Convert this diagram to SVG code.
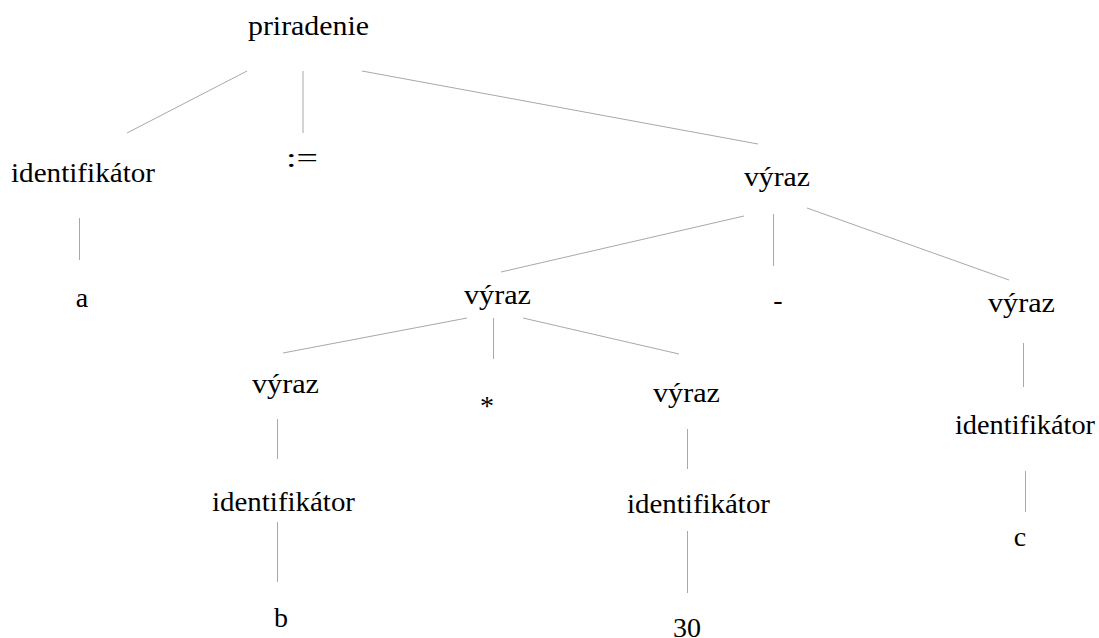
<svg xmlns="http://www.w3.org/2000/svg" width="1099" height="638" viewBox="0 0 1099 638">
  <style>
    .lbl { font-family: "Liberation Serif", "Noto Serif", "Noto Serif CJK SC", "Noto Serif CJK JP", FreeSerif, "Nimbus Roman", "Nimbus Roman No9 L", Times, "DejaVu Serif", "Droid Serif", "Source Serif Pro", Georgia, serif; font-size: 28px; fill: #000; }
    .edge { stroke: #a8a8a8; stroke-width: 1; fill: none; }
  </style>
  <rect width="1099" height="638" fill="#fff"/>

  <!-- tree edges -->
  <g id="connectors">
    <line class="edge" x1="247" y1="71" x2="127" y2="133"/>
    <line class="edge" x1="303" y1="71" x2="303" y2="133"/>
    <line class="edge" x1="362" y1="71" x2="758" y2="144"/>
    <line class="edge" x1="79.5" y1="218" x2="79.5" y2="260"/>
    <line class="edge" x1="744" y1="216" x2="501" y2="272"/>
    <line class="edge" x1="773.5" y1="214" x2="773.5" y2="266"/>
    <line class="edge" x1="807" y1="208" x2="1009" y2="280"/>
    <line class="edge" x1="467" y1="318" x2="283" y2="353"/>
    <line class="edge" x1="493.5" y1="318" x2="493.5" y2="359"/>
    <line class="edge" x1="523" y1="318" x2="679" y2="354"/>
    <line class="edge" x1="1023.5" y1="343" x2="1023.5" y2="387"/>
    <line class="edge" x1="277.5" y1="419" x2="277.5" y2="459"/>
    <line class="edge" x1="277.5" y1="522" x2="277.5" y2="582"/>
    <line class="edge" x1="687.5" y1="429" x2="687.5" y2="469"/>
    <line class="edge" x1="687.5" y1="531" x2="687.5" y2="593"/>
    <line class="edge" x1="1025.5" y1="471" x2="1025.5" y2="512"/>
  </g>

  <!-- tree nodes -->
  <g id="n-priradenie"><text class="lbl" x="248" y="35" textLength="121" lengthAdjust="spacingAndGlyphs">priradenie</text></g>
  <g id="n-ident-a"><text class="lbl" x="11" y="182" textLength="144" lengthAdjust="spacingAndGlyphs">identifikátor</text></g>
  <g id="n-assign"><text class="lbl" x="286" y="167" textLength="32" lengthAdjust="spacingAndGlyphs">:=</text></g>
  <g id="n-a"><text class="lbl" x="82" y="307" text-anchor="middle">a</text></g>
  <g id="n-vyraz-root"><text class="lbl" x="744" y="186" textLength="66" lengthAdjust="spacingAndGlyphs">výraz</text></g>
  <g id="n-vyraz-mul"><text class="lbl" x="464" y="304" textLength="67" lengthAdjust="spacingAndGlyphs">výraz</text></g>
  <g id="n-minus"><text class="lbl" x="778" y="309" text-anchor="middle">-</text></g>
  <g id="n-vyraz-c"><text class="lbl" x="988" y="312" textLength="67" lengthAdjust="spacingAndGlyphs">výraz</text></g>
  <g id="n-vyraz-b"><text class="lbl" x="252" y="393" textLength="67" lengthAdjust="spacingAndGlyphs">výraz</text></g>
  <g id="n-star"><text class="lbl" x="487" y="415" text-anchor="middle">*</text></g>
  <g id="n-vyraz-30"><text class="lbl" x="653" y="402" textLength="67" lengthAdjust="spacingAndGlyphs">výraz</text></g>
  <g id="n-ident-b"><text class="lbl" x="212" y="511" textLength="143" lengthAdjust="spacingAndGlyphs">identifikátor</text></g>
  <g id="n-ident-30"><text class="lbl" x="627" y="513" textLength="143" lengthAdjust="spacingAndGlyphs">identifikátor</text></g>
  <g id="n-ident-c"><text class="lbl" x="955" y="434" textLength="140" lengthAdjust="spacingAndGlyphs">identifikátor</text></g>
  <g id="n-b"><text class="lbl" x="281" y="627" text-anchor="middle">b</text></g>
  <g id="n-30"><text class="lbl" x="687" y="637" text-anchor="middle">30</text></g>
  <g id="n-c"><text class="lbl" x="1020" y="546" text-anchor="middle">c</text></g>
</svg>
